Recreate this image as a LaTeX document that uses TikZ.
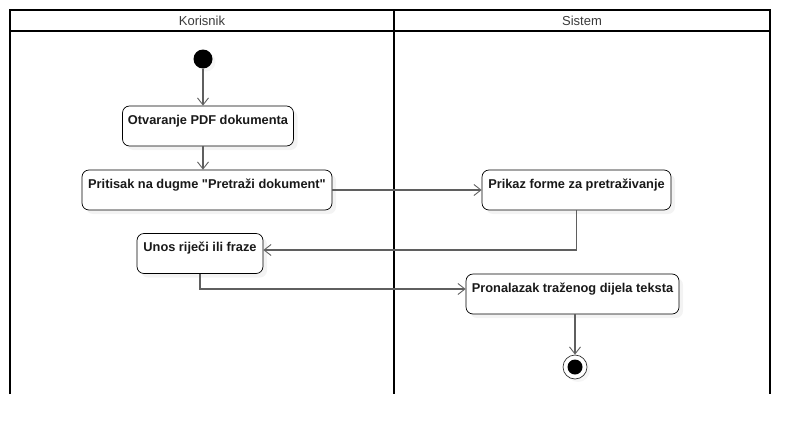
\documentclass[tikz,border=0pt]{standalone}
\usepackage{fontspec}
\setmainfont{Liberation Sans}
\usetikzlibrary{arrows.meta,shadows}
\definecolor{veza}{HTML}{5F5F5F}
\definecolor{natpis}{HTML}{3A3A3A}
\newcommand{\navod}{\XeTeXglyph\XeTeXcharglyph"22\relax}
\begin{document}
\begin{tikzpicture}[x=1pt,y=-1pt,
        okvir/.style={line width=1.8pt,black},
        zaglavlje/.style={text=natpis,font=\fontsize{13}{15}\selectfont,inner sep=0pt},
        akcija/.style={draw=black,line width=0.7pt,fill=white,rounded corners=7pt,
            font=\bfseries\fontsize{12.8}{15}\selectfont,text=black!90,
            text height=15pt,text depth=19pt,inner xsep=3pt,inner ysep=3pt,
            drop shadow={shadow xshift=4pt,shadow yshift=-4pt,fill=black!9}},
        tok/.style={draw=veza,line width=1.1pt,-{Straight Barb[length=7pt,width=11pt,line width=0.9pt]}}]
                \useasboundingbox (0,0) rectangle (810,434);
                % plivaci
                \draw[okvir] (10,394) -- (10,10) -- (770,10) -- (770,394);
                \draw[okvir] (10,31) -- (770,31);
                \draw[okvir] (394,10) -- (394,394);
                \node[zaglavlje] (korisnik) at (202,20.5) {Korisnik};
                \node[zaglavlje] (sistem) at (582,20.5) {Sistem};
                % pocetak i kraj
                \node[circle,fill=black,minimum size=19pt,inner sep=0pt,
                    drop shadow={shadow xshift=3pt,shadow yshift=-3pt,fill=black!7}] (pocetak) at (203,59) {};
                \node[circle,draw=black!80,line width=0.7pt,fill=white,minimum size=24pt,inner sep=0pt,
                    drop shadow={shadow xshift=3pt,shadow yshift=-3pt,fill=black!7}] (kraj) at (575,367) {};
                \fill (kraj) circle (7.5pt);
                % aktivnosti
                \node[akcija,minimum width=171pt] (otvaranje) at (208,126) {Otvaranje PDF dokumenta};
                \node[akcija,minimum width=250pt] (pritisak) at (207,190) {Pritisak na dugme \navod Pretraži dokument\navod};
                \node[akcija,minimum width=189pt] (prikaz) at (576.5,190) {Prikaz forme za pretraživanje};
                \node[akcija,minimum width=126pt] (unos) at (200,253.5) {Unos riječi ili fraze};
                \node[akcija,minimum width=213pt] (pronalazak) at (572.5,294) {Pronalazak traženog dijela teksta};
                % prijelazi
                \draw[tok] (pocetak) -- (pocetak |- otvaranje.north);
                \draw[tok] (otvaranje.south -| pocetak) -- (pritisak.north -| pocetak);
                \draw[tok] (pritisak) -- (prikaz);
                \draw[tok] (prikaz.south) |- ([yshift=3.5pt]unos.east);
                \draw[tok] (unos.south) |- ([yshift=5pt]pronalazak.west);
                \draw[tok] (pronalazak.south -| kraj) -- (kraj);
\end{tikzpicture}
\end{document}
